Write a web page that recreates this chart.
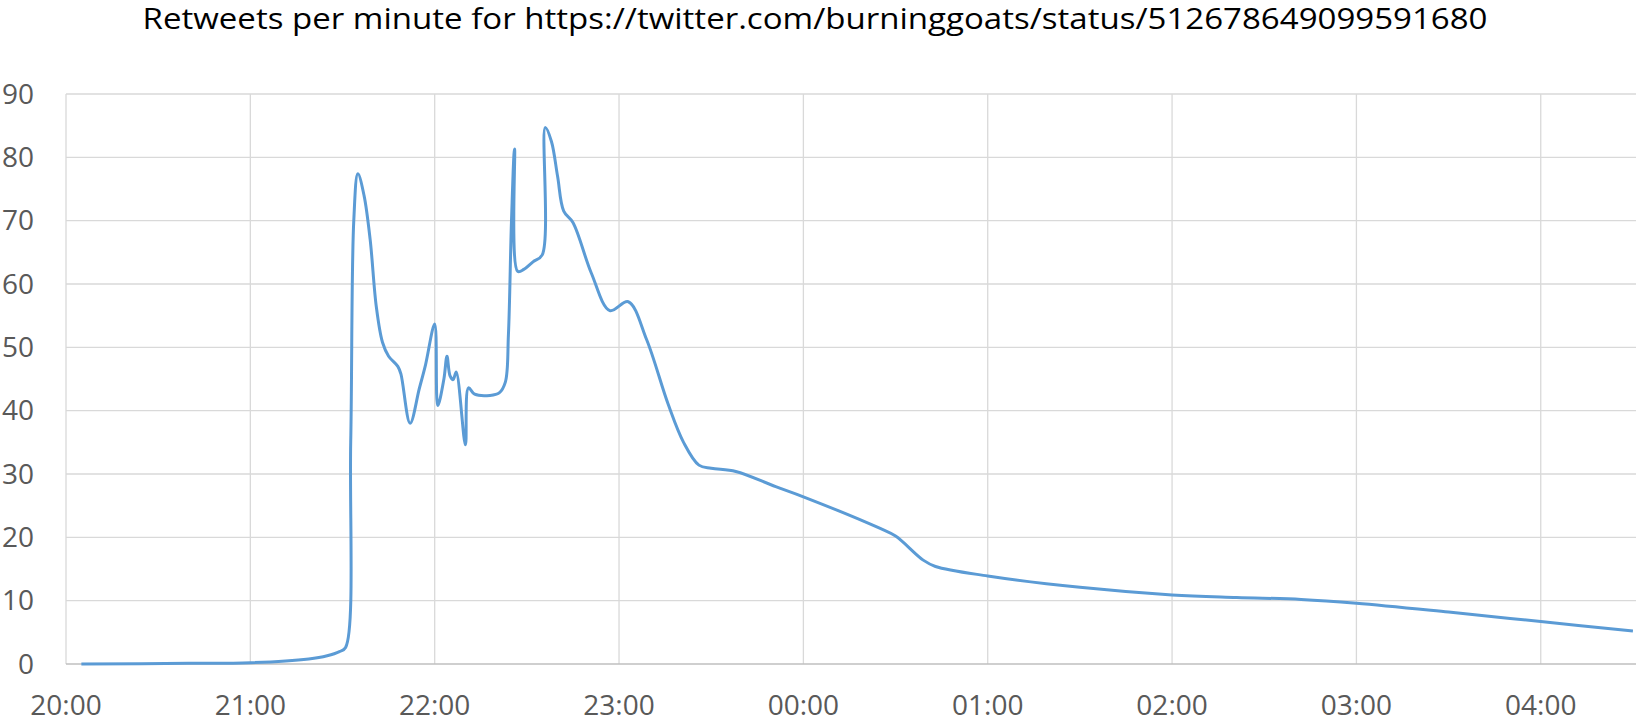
<!DOCTYPE html>
<html>
<head>
<meta charset="utf-8">
<script src="https://cdn.jsdelivr.net/npm/d3@7"></script>
<style>
  body { margin: 0; background: #fff; }
  text { font-family: "Open Sans", sans-serif; }
</style>
</head>
<body>
<script>
// chart data
const title = "Retweets per minute for https://twitter.com/burninggoats/status/512678649099591680";
const times = [
  "20:05", "20:40", "21:00", "21:19", "21:25", "21:29", "21:31", "21:32:40", "21:33:40", "21:35",
  "21:37", "21:39", "21:41", "21:43", "21:45", "21:48", "21:49", "21:52", "21:55", "21:57",
  "22:00", "22:01", "22:03", "22:04", "22:05", "22:06", "22:07", "22:10", "22:11", "22:13",
  "22:18", "22:21", "22:23", "22:24", "22:25", "22:26", "22:27", "22:29", "22:32", "22:35",
  "22:36", "22:38", "22:40", "22:42", "22:45", "22:51", "22:57", "23:03", "23:09", "23:16",
  "23:21", "23:26", "23:30", "23:38", "23:51", "00:00", "00:25", "00:30", "00:39", "00:43",
  "01:00", "01:30", "02:00", "02:21", "02:42", "03:00", "03:30", "04:00", "04:30",
];
const rpm = [
  0, 0.1, 0.2, 0.8, 1.3, 1.95, 2.6, 35, 70, 77.4,
  74, 67, 56.4, 50.8, 48.6, 47, 45.8, 38, 43.5, 47.2,
  53.7, 40.8, 45, 48.6, 45.5, 44.9, 46.1, 34.6, 43.6, 42.6,
  42.4, 42.8, 44.5, 52, 70, 81.3, 62, 62.3, 63.5, 64.6,
  84.7, 82.5, 77, 71.5, 69.7, 61.7, 55.8, 57.2, 51.2, 41,
  35, 31.4, 30.9, 30.4, 28, 26.4, 21.4, 20.2, 16.4, 15.4,
  13.9, 12.1, 10.9, 10.5, 10.2, 9.6, 8.2, 6.7, 5.2,
];
const xTicks = ["20:00", "21:00", "22:00", "23:00", "00:00", "01:00", "02:00", "03:00", "04:00"];
const yTicks = [0, 10, 20, 30, 40, 50, 60, 70, 80, 90];
const xStart = "20:00";
const xEnd = "04:31";
// ----------

// sizes
const w = 1636;
const h = 717;
const p = { t: 94, r: 0, b: 53, l: 66 };
const lineCol = "#5b9bd5";
const gridCol = "#d9d9d9";
const axisCol = "#bfbfbf";
const labelCol = "#595959";
// ----------

// "HH:MM" or "HH:MM:SS" -> Date, hours before noon belong to the next day
const parseHM = (s) => {
  const [hh, mm, ss = 0] = s.split(":").map(Number);
  return new Date(2014, 8, hh < 12 ? 19 : 18, hh, mm, ss);
};

const data = times.map((t, i) => ({ t: parseHM(t), v: rpm[i] }));

const svg = d3
  .select("body")
  .append("svg")
  .attr("width", w)
  .attr("height", h);

// scales
const x = d3
  .scaleTime()
  .domain([parseHM(xStart), parseHM(xEnd)])
  .range([p.l, w - p.r]);

const y = d3
  .scaleLinear()
  .domain([0, 90])
  .range([h - p.b, p.t]);
// ----------

// title
svg
  .append("text")
  .text(title)
  .attr("x", 815)
  .attr("y", 29)
  .attr("text-anchor", "middle")
  .attr("font-size", 29)
  .attr("textLength", 1345)
  .attr("lengthAdjust", "spacingAndGlyphs")
  .attr("fill", "#000");
// ----------

// grid lines
svg
  .append("g")
  .selectAll("line")
  .data(yTicks.slice(1))
  .enter()
  .append("line")
  .attr("x1", p.l)
  .attr("x2", w - p.r)
  .attr("y1", (d) => y(d))
  .attr("y2", (d) => y(d))
  .attr("stroke", gridCol)
  .attr("stroke-width", 1.3);

svg
  .append("g")
  .selectAll("line")
  .data(xTicks)
  .enter()
  .append("line")
  .attr("x1", (d) => x(parseHM(d)))
  .attr("x2", (d) => x(parseHM(d)))
  .attr("y1", y(90))
  .attr("y2", y(0))
  .attr("stroke", gridCol)
  .attr("stroke-width", 1.3);

// x axis base line
svg
  .append("line")
  .attr("x1", p.l)
  .attr("x2", w - p.r)
  .attr("y1", y(0))
  .attr("y2", y(0))
  .attr("stroke", axisCol)
  .attr("stroke-width", 1.3);
// ----------

// tick labels
svg
  .append("g")
  .selectAll("text")
  .data(yTicks)
  .enter()
  .append("text")
  .text((d) => d)
  .attr("x", 34)
  .attr("y", (d) => y(d))
  .attr("dy", "0.35em")
  .attr("text-anchor", "end")
  .attr("font-size", 28)
  .attr("fill", labelCol);

svg
  .append("g")
  .selectAll("text")
  .data(xTicks)
  .enter()
  .append("text")
  .text((d) => d)
  .attr("x", (d) => x(parseHM(d)))
  .attr("y", 715)
  .attr("text-anchor", "middle")
  .attr("font-size", 28)
  .attr("fill", labelCol);
// ----------

// the line
const lineGen = d3
  .line()
  .x((d) => x(d.t))
  .y((d) => y(d.v))
  .curve(d3.curveCatmullRom.alpha(0.5));

svg
  .append("path")
  .datum(data)
  .attr("d", lineGen)
  .attr("fill", "none")
  .attr("stroke", lineCol)
  .attr("stroke-width", 3)
  .attr("stroke-linejoin", "round");
</script>
</body>
</html>
